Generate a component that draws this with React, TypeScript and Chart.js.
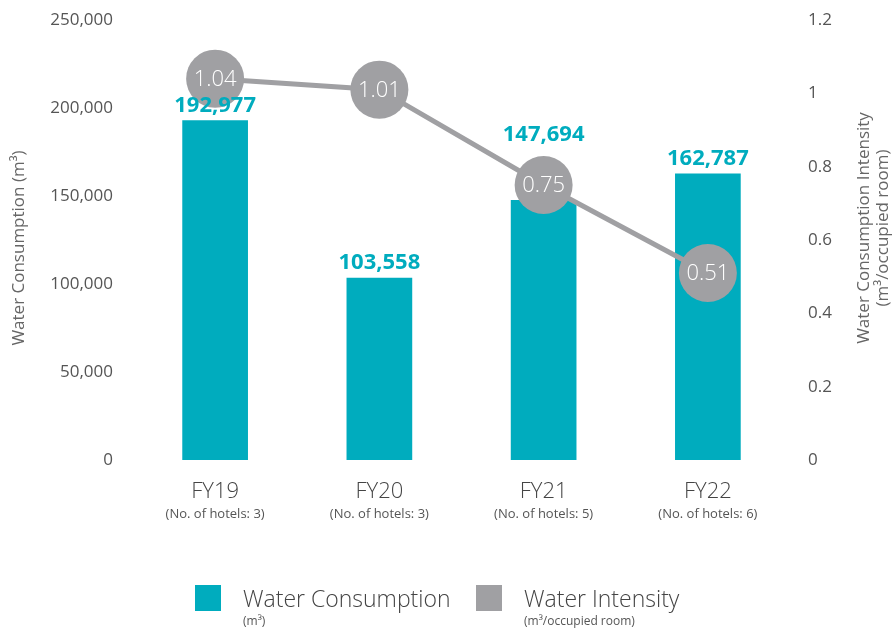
import React, { useEffect, useRef } from "react";
import { Chart, registerables } from "chart.js";

Chart.register(...registerables);

const categories = ["FY19", "FY20", "FY21", "FY22"];
const hotelLabels = ["(No. of hotels: 3)", "(No. of hotels: 3)", "(No. of hotels: 5)", "(No. of hotels: 6)"];
const consumption = [192977, 103558, 147694, 162787];
const intensity = [1.04, 1.01, 0.75, 0.51];

const TEAL = "#00ACBE";
const GRAY = "#A0A0A3";
const FONT = "'Open Sans', sans-serif";
const POINT_R = 29;

const overlayPlugin = {
  id: "overlay",
  afterDatasetsDraw(chart: any) {
    const ctx = chart.ctx;
    ctx.save();
    const barMeta = chart.getDatasetMeta(0);
    const lineMeta = chart.getDatasetMeta(1);
    ctx.textAlign = "center";
    ctx.textBaseline = "middle";
    ctx.font = `bold 22px ${FONT}`;
    ctx.fillStyle = TEAL;
    barMeta.data.forEach((el: any, i: number) => {
      let y = el.y - 15;
      const p = lineMeta.data[i];
      // if the point circle crosses the bar top, place the label above the circle
      if (p && p.y - POINT_R < el.y && p.y + POINT_R > el.y) {
        y = p.y - POINT_R - 21;
      }
      ctx.fillText(consumption[i].toLocaleString("en-US"), el.x, y);
    });
    ctx.font = `300 22px ${FONT}`;
    ctx.fillStyle = "#FFFFFF";
    lineMeta.data.forEach((el: any, i: number) => {
      ctx.fillText(intensity[i].toFixed(2), el.x, el.y + 1);
    });
    ctx.restore();
  },
  afterDraw(chart: any) {
    const ctx = chart.ctx;
    ctx.save();
    ctx.textAlign = "center";
    ctx.textBaseline = "middle";
    ctx.fillStyle = "#666666";
    ctx.font = `17px ${FONT}`;
    ctx.save();
    ctx.translate(19, 248);
    ctx.rotate(-Math.PI / 2);
    ctx.fillText("Water Consumption (m³)", 0, 0);
    ctx.restore();
    ctx.save();
    ctx.translate(864, 228);
    ctx.rotate(-Math.PI / 2);
    ctx.fillText("Water Consumption Intensity", 0, 0);
    ctx.fillText("(m³/occupied room)", 0, 19);
    ctx.restore();
    const xs = chart.scales.x;
    ctx.fillStyle = "#555555";
    ctx.font = `13px ${FONT}`;
    hotelLabels.forEach((t, i) => {
      ctx.fillText(t, xs.getPixelForValue(i), 514);
    });
    const items = [
      { color: TEAL, label: "Water Consumption", sub: "(m³)", x: 195 },
      { color: GRAY, label: "Water Intensity", sub: "(m³/occupied room)", x: 476 },
    ];
    items.forEach((it) => {
      ctx.fillStyle = it.color;
      ctx.fillRect(it.x, 585, 26, 26);
      ctx.textAlign = "left";
      ctx.fillStyle = "#444444";
      ctx.font = `300 23px ${FONT}`;
      ctx.fillText(it.label, it.x + 48, 600);
      ctx.fillStyle = "#555555";
      ctx.font = `12px ${FONT}`;
      ctx.fillText(it.sub, it.x + 48, 622);
    });
    ctx.restore();
  },
};

const fitVertical = (w: number) => (s: any) => {
  s.width = w;
  s.paddingTop = 0;
  s.paddingBottom = 0;
};

export default function App() {
  const ref = useRef<HTMLCanvasElement | null>(null);
  useEffect(() => {
    if (!ref.current) return;
    const chart = new Chart(ref.current, {
      type: "bar",
      data: {
        labels: categories,
        datasets: [
          {
            type: "bar",
            label: "Water Consumption",
            data: consumption,
            backgroundColor: TEAL,
            yAxisID: "y",
            barPercentage: 0.8,
            categoryPercentage: 0.5,
            order: 2,
          } as any,
          {
            type: "line",
            label: "Water Intensity",
            data: intensity,
            borderColor: GRAY,
            borderWidth: 5,
            pointRadius: POINT_R,
            pointHoverRadius: POINT_R,
            pointBackgroundColor: GRAY,
            pointBorderWidth: 0,
            yAxisID: "y1",
            order: 1,
            clip: false,
          } as any,
        ],
      },
      options: {
        responsive: false,
        animation: false,
        layout: { autoPadding: false, padding: { top: 20, left: 0, right: 0, bottom: 0 } },
        plugins: { legend: { display: false }, tooltip: { enabled: false } },
        scales: {
          x: {
            grid: { display: false, drawTicks: false },
            border: { display: false },
            ticks: { font: { family: FONT, size: 22, weight: 300 }, color: "#444444", padding: 19 },
            afterFit: (s: any) => { s.height = 171; s.paddingLeft = 0; s.paddingRight = 0; },
          },
          y: {
            position: "left",
            min: 0,
            max: 250000,
            grid: { display: false, drawTicks: false },
            border: { display: false },
            ticks: {
              stepSize: 50000,
              font: { family: FONT, size: 17 },
              color: "#555555",
              padding: 20,
              callback: (v: any) => Number(v).toLocaleString("en-US"),
            },
            afterFit: fitVertical(133),
          },
          y1: {
            position: "right",
            min: 0,
            max: 1.2,
            grid: { display: false, drawTicks: false },
            border: { display: false },
            ticks: {
              stepSize: 0.2,
              font: { family: FONT, size: 17 },
              color: "#555555",
              padding: 18,
              callback: (v: any) => String(Math.round(Number(v) * 10) / 10),
            },
            afterFit: fitVertical(105),
          },
        },
      } as any,
      plugins: [overlayPlugin],
    });
    return () => chart.destroy();
  }, []);
  return (
    <div style={{ position: "absolute", left: 0, top: 0, width: 895, height: 631, background: "#fff" }}>
      <canvas ref={ref} width={895} height={631} />
    </div>
  );
}
